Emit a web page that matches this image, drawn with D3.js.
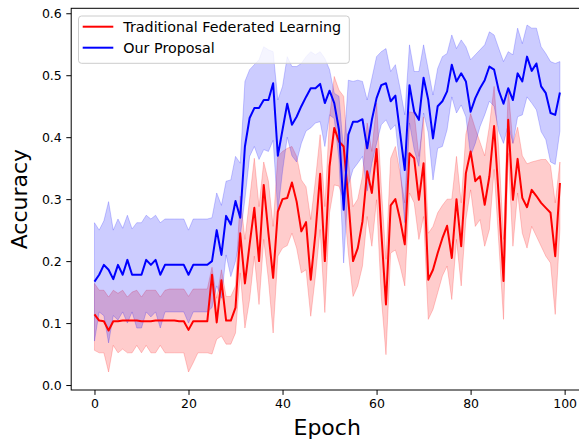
<!DOCTYPE html>
<html><head><meta charset="utf-8">
<script src="https://cdn.jsdelivr.net/npm/d3@7"></script>
<style>body{margin:0;background:#fff;overflow:hidden}svg{display:block}text{font-family:"DejaVu Sans",sans-serif}</style>
</head><body>
<script>
const epochs = d3.range(100);
const redMean = [0.114,0.104,0.103,0.088,0.103,0.103,0.104,0.104,0.104,0.104,
0.103,0.103,0.103,0.104,0.104,0.104,0.104,0.104,0.103,0.103,
0.089,0.103,0.103,0.103,0.103,0.178,0.101,0.169,0.104,0.104,
0.125,0.245,0.164,0.227,0.286,0.2,0.323,0.245,0.173,0.28,
0.3,0.302,0.327,0.296,0.248,0.263,0.17,0.245,0.341,0.2,
0.353,0.415,0.393,0.385,0.299,0.2,0.221,0.264,0.345,0.31,
0.381,0.248,0.13,0.29,0.3,0.267,0.227,0.374,0.366,0.299,
0.358,0.17,0.186,0.213,0.237,0.257,0.205,0.3,0.224,0.342,
0.377,0.329,0.337,0.291,0.337,0.418,0.302,0.168,0.428,0.299,
0.365,0.302,0.287,0.315,0.305,0.294,0.286,0.278,0.208,0.326];
const redUpper = [0.164,0.153,0.153,0.142,0.153,0.148,0.153,0.142,0.15,0.153,
0.142,0.153,0.153,0.153,0.142,0.153,0.155,0.155,0.155,0.155,
0.143,0.155,0.155,0.155,0.155,0.19,0.14,0.186,0.143,0.143,
0.16,0.305,0.235,0.3,0.366,0.288,0.36,0.329,0.256,0.369,
0.377,0.382,0.385,0.369,0.331,0.32,0.267,0.331,0.404,0.288,
0.431,0.498,0.476,0.466,0.364,0.288,0.3,0.337,0.423,0.377,
0.455,0.32,0.203,0.366,0.385,0.342,0.294,0.441,0.439,0.369,
0.433,0.245,0.256,0.278,0.29,0.3,0.3,0.369,0.294,0.405,
0.438,0.414,0.392,0.37,0.418,0.482,0.38,0.235,0.478,0.39,
0.416,0.37,0.357,0.36,0.362,0.364,0.364,0.354,0.294,0.36];
const redLower = [0.056,0.052,0.052,0.021,0.064,0.052,0.058,0.052,0.052,0.064,
0.052,0.064,0.052,0.052,0.064,0.052,0.052,0.052,0.052,0.052,
0.021,0.036,0.052,0.052,0.052,0.05,0.074,0.079,0.066,0.066,
0.084,0.181,0.092,0.138,0.208,0.13,0.235,0.17,0.084,0.208,
0.221,0.225,0.245,0.221,0.181,0.186,0.111,0.176,0.251,0.117,
0.278,0.323,0.321,0.299,0.213,0.143,0.16,0.192,0.272,0.224,
0.299,0.143,0.049,0.213,0.218,0.192,0.16,0.31,0.294,0.235,
0.272,0.106,0.122,0.149,0.176,0.192,0.138,0.235,0.16,0.267,
0.315,0.256,0.267,0.224,0.251,0.348,0.229,0.106,0.374,0.224,
0.31,0.245,0.221,0.256,0.24,0.224,0.208,0.197,0.114,0.251];
const blueMean = [0.167,0.178,0.194,0.186,0.171,0.194,0.178,0.202,0.178,0.178,
0.178,0.202,0.194,0.202,0.178,0.194,0.194,0.194,0.194,0.194,
0.178,0.194,0.194,0.194,0.194,0.2,0.25,0.21,0.273,0.259,
0.297,0.27,0.385,0.431,0.447,0.447,0.46,0.46,0.487,0.37,
0.412,0.454,0.42,0.433,0.45,0.465,0.479,0.479,0.486,0.455,
0.475,0.455,0.412,0.283,0.404,0.425,0.425,0.429,0.382,0.428,
0.463,0.484,0.487,0.458,0.467,0.407,0.347,0.484,0.441,0.428,
0.496,0.46,0.398,0.45,0.458,0.474,0.517,0.49,0.503,0.49,
0.441,0.463,0.479,0.492,0.514,0.509,0.475,0.454,0.479,0.46,
0.503,0.49,0.53,0.507,0.519,0.482,0.471,0.439,0.436,0.472];
const blueUpper = [0.262,0.25,0.265,0.296,0.25,0.268,0.253,0.274,0.252,0.262,
0.262,0.274,0.268,0.274,0.262,0.268,0.268,0.268,0.268,0.268,
0.25,0.268,0.268,0.268,0.268,0.27,0.31,0.29,0.329,0.331,
0.369,0.358,0.49,0.509,0.517,0.525,0.546,0.541,0.538,0.46,
0.482,0.53,0.514,0.514,0.519,0.53,0.538,0.533,0.538,0.527,
0.509,0.471,0.466,0.377,0.492,0.49,0.492,0.49,0.46,0.495,
0.53,0.538,0.543,0.506,0.517,0.479,0.436,0.549,0.506,0.506,
0.549,0.509,0.468,0.511,0.53,0.535,0.565,0.543,0.557,0.546,
0.525,0.533,0.541,0.549,0.57,0.565,0.543,0.522,0.538,0.533,
0.576,0.551,0.581,0.576,0.576,0.546,0.535,0.522,0.519,0.522];
const blueLower = [0.071,0.118,0.112,0.068,0.112,0.105,0.118,0.1,0.118,0.092,
0.092,0.118,0.11,0.118,0.092,0.118,0.118,0.118,0.118,0.118,
0.1,0.118,0.118,0.118,0.118,0.125,0.16,0.14,0.21,0.175,
0.2,0.24,0.3,0.369,0.385,0.364,0.38,0.377,0.395,0.28,
0.345,0.4,0.37,0.36,0.39,0.41,0.415,0.423,0.425,0.385,
0.436,0.43,0.364,0.197,0.323,0.348,0.358,0.369,0.313,0.358,
0.39,0.42,0.428,0.412,0.42,0.35,0.262,0.423,0.38,0.353,
0.439,0.407,0.331,0.382,0.385,0.412,0.465,0.439,0.452,0.433,
0.37,0.39,0.417,0.436,0.458,0.45,0.409,0.39,0.42,0.39,
0.433,0.436,0.465,0.455,0.444,0.409,0.396,0.36,0.356,0.41];
const xTicks = [0,20,40,60,80,100];
const yTicks = [0.0,0.1,0.2,0.3,0.4,0.5,0.6];
const seriesNames = ["Traditional Federated Learning","Our Proposal"];
const seriesColors = ["#ff0000","#0000ff"];

(function(){
const W = 579, H = 440;
const pL = 71.2, pR = 583.2, pT = 8.3, pB = 390;
const svg = d3.select("body").append("svg").attr("width",W).attr("height",H);
const x = d3.scaleLinear().domain([-4.95,103.95]).range([pL,pR]);
const y = d3.scaleLinear().domain([-0.008,0.608]).range([pB,pT]);

const series = [
  {name:seriesNames[0], color:seriesColors[0], mean:redMean, lo:redLower, hi:redUpper},
  {name:seriesNames[1], color:seriesColors[1], mean:blueMean, lo:blueLower, hi:blueUpper}
];
const idx = epochs.map((e,i)=>i);
const area = s => d3.area().x(i=>x(epochs[i])).y0(i=>y(s.lo[i])).y1(i=>y(s.hi[i]));
const line = s => d3.line().x(i=>x(epochs[i])).y(i=>y(s.mean[i]));

const g = svg.append("g");
series.forEach(s=>{
  g.append("path").attr("d",area(s)(idx))
   .attr("fill",s.color).attr("fill-opacity",0.2)
   .attr("stroke",s.color).attr("stroke-opacity",0.2).attr("stroke-width",1);
});
series.forEach(s=>{
  g.append("path").attr("d",line(s)(idx))
   .attr("fill","none").attr("stroke",s.color).attr("stroke-width",2)
   .attr("stroke-linejoin","round").attr("stroke-linecap","butt");
});

const xAxis = svg.append("g").attr("transform",`translate(0,${pB})`)
  .call(d3.axisBottom(x).tickValues(xTicks).tickSize(4.9).tickPadding(4.5).tickFormat(d3.format("d")));
const yAxis = svg.append("g").attr("transform",`translate(${pL},0)`)
  .call(d3.axisLeft(y).tickValues(yTicks).tickSize(4.9).tickPadding(4.5).tickFormat(d3.format(".1f")));
[xAxis,yAxis].forEach(a=>{
  a.selectAll("text").attr("font-size","12.5px").attr("fill","#000").attr("font-family","DejaVu Sans");
  a.selectAll("line").attr("stroke","#000").attr("stroke-width",1);
  a.select(".domain").remove();
});
svg.append("rect").attr("x",pL).attr("y",pT).attr("width",pR-pL).attr("height",pB-pT)
  .attr("fill","none").attr("stroke","#000").attr("stroke-width",1);

svg.append("text").attr("x",(pL+pR)/2).attr("y",435).attr("text-anchor","middle")
  .attr("font-size","22px").attr("fill","#000").text("Epoch");
svg.append("text").attr("transform",`translate(27,${(pT+pB)/2}) rotate(-90)`)
  .attr("text-anchor","middle").attr("font-size","22px").attr("fill","#000").text("Accuracy");

const lg = svg.append("g");
lg.append("rect").attr("x",78.5).attr("y",16).attr("width",270.8).attr("height",47.3)
  .attr("rx",3).attr("fill","#fff").attr("fill-opacity",0.8).attr("stroke","#cccccc").attr("stroke-width",1);
series.forEach((s,i)=>{
  const yy = 26.7 + i*21;
  lg.append("line").attr("x1",82.7).attr("x2",113.3).attr("y1",yy).attr("y2",yy)
    .attr("stroke",s.color).attr("stroke-width",2);
  lg.append("text").attr("x",123.3).attr("y",yy+5.3).attr("font-size","14.3px").attr("fill","#000").text(s.name);
});
})();
</script>
</body></html>
